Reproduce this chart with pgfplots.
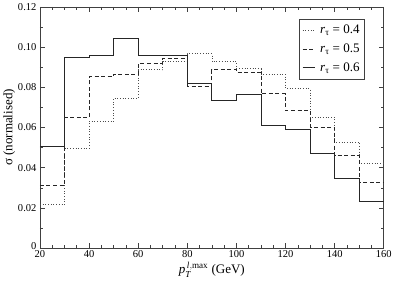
\documentclass[border=0pt]{standalone}
\usepackage{pgfplots}
\pgfplotsset{compat=1.18}
\usepackage{amsmath}
\usepackage{fontspec}
\setmainfont{Liberation Serif}
\begin{document}
\begin{tikzpicture}[x=1bp,y=1bp]
\begin{axis}[
  scale only axis,
  width=342bp, height=240bp,
  xmin=20, xmax=160, ymin=0, ymax=0.12,
  xtick={20,40,...,160},
  minor x tick num=3,
  ytick={0,0.02,0.04,0.06,0.08,0.1,0.12},
  yticklabels={\raisebox{5bp}{0},0.02,0.04,0.06,0.08,0.10,0.12},
  minor y tick num=1,
  tick align=inside,
  ticks=both,
  xtick pos=both, ytick pos=both,
  major tick length=5bp, minor tick length=3bp,
  axis line style={draw=black!75, line width=0.8pt},
  every tick/.style={black!75, line width=0.6pt},
  /pgf/number format/assume math mode=true,
  tick label style={font=\fontsize{10.5}{12}\selectfont},
  xticklabel style={yshift=1bp},
  scaled y ticks=false,
  xlabel={$\text{\itshape p}_{\text{\itshape T}}^{\,\text{\itshape l},\text{max}}$ (GeV)},
  ylabel={σ (normalised)},
  label style={font=\fontsize{13}{15}\selectfont},
  xlabel style={yshift=3bp},
  ylabel style={yshift=-4bp},
  legend style={at={(0.945,0.95)}, anchor=north east, draw=black!75, line width=0.6pt,
     font=\fontsize{13}{15}\selectfont, row sep=4.5bp, inner xsep=3bp, inner ysep=4bp},
  legend cell align=left,
  legend image code/.code={\draw[#1] (0bp,0bp) -- (12bp,0bp);},
  legend style={/tikz/every even column/.append style={column sep=0bp}},
]
\addplot[const plot, black!70, line width=0.7pt, dotted] coordinates {
(20,0.0217) (30,0.0497) (40,0.0632) (50,0.0747) (60,0.0887) (70,0.0927) (80,0.0967)
(90,0.0927) (100,0.0892) (110,0.0865) (120,0.0793) (130,0.0650) (140,0.0527) (150,0.0423) (160,0.0423)};
\addlegendentry{\hspace{3bp}\textit{r}$_{\text{τ}}$ = 0.4}
\addplot[const plot, black!85, line width=0.8pt, dash pattern=on 4bp off 2.5bp] coordinates {
(20,0.0312) (30,0.0648) (40,0.0853) (50,0.0865) (60,0.0917) (70,0.0945) (80,0.0805)
(90,0.0887) (100,0.0873) (110,0.0768) (120,0.0683) (130,0.0603) (140,0.0460) (150,0.0328) (160,0.0328)};
\addlegendentry{\hspace{3bp}\textit{r}$_{\text{τ}}$ = 0.5}
\addplot[const plot, black!85, line width=0.8pt] coordinates {
(20,0.0507) (30,0.0948) (40,0.0957) (50,0.1043) (60,0.0957) (70,0.0957) (80,0.0822)
(90,0.0733) (100,0.0765) (110,0.0612) (120,0.0590) (130,0.0473) (140,0.0348) (150,0.0235) (160,0.0235)};
\addlegendentry{\hspace{3bp}\textit{r}$_{\text{τ}}$ = 0.6}
\end{axis}
\end{tikzpicture}
\end{document}
